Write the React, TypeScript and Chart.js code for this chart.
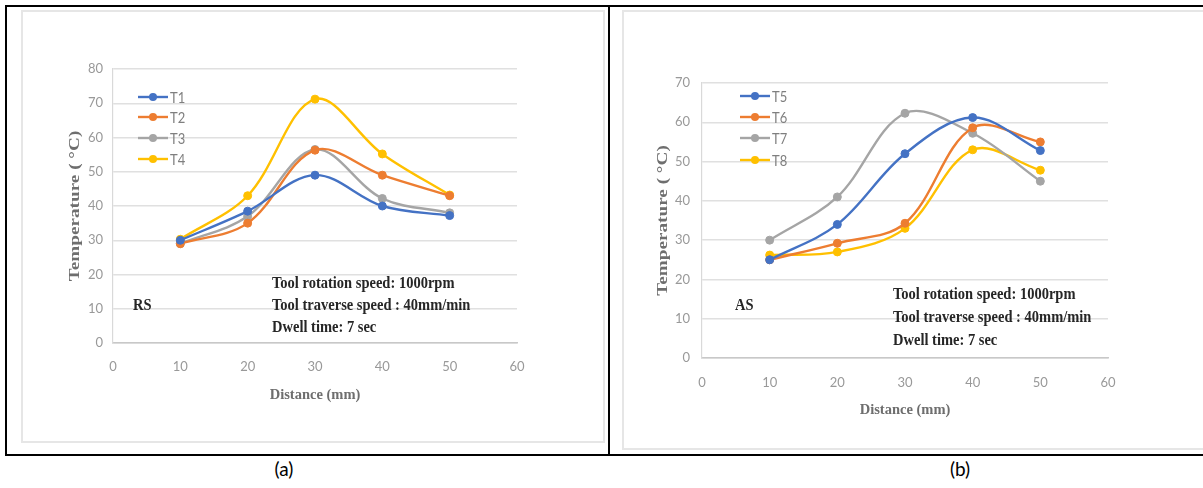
import React, { useEffect, useRef } from "react";
import { Chart, registerables } from "chart.js";

Chart.register(...registerables);

// ---- Data ----
const distances = [10, 20, 30, 40, 50];
const xTicks = [0, 10, 20, 30, 40, 50, 60];

const rsLabels = ["T1", "T2", "T3", "T4"];
const t1 = [30, 38.5, 49, 40, 37.2];
const t2 = [29, 35, 56.3, 49, 43];
const t3 = [29, 37, 56.5, 42.2, 38];
const t4 = [30.3, 43, 71.2, 55.2, 43.2];

const asLabels = ["T5", "T6", "T7", "T8"];
const t5 = [25, 34, 52, 61.2, 52.8];
const t6 = [25, 29.2, 34.3, 58.6, 55];
const t7 = [30, 41, 62.3, 57.2, 45];
const t8 = [26.2, 27, 33, 53, 47.8];

const seriesColors = ["#4472C4", "#ED7D31", "#A5A5A5", "#FFC000"];

const xTitle = "Distance (mm)";
const yTitle = "Temperature ( °C)";
const noteLines = ["Tool rotation speed: 1000rpm", "Tool traverse speed : 40mm/min", "Dwell time: 7 sec"];
const sideLabels = ["RS", "AS"];
const captions = ["(a)", "(b)"];

type PanelCfg = {
  left: number;
  top: number;
  width: number;
  height: number;
  yMax: number;
  labels: string[];
  series: number[][];
  yAxisWidth: number;
  xAxisHeight: number;
  padTop: number;
  padRight: number;
  yTickPad: number;
  xTickPad: number;
  yTitleX: number;
  xTitlePad: number;
  legend: { x1: number; x2: number; tx: number; ys: number[] };
};

const rsCfg: PanelCfg = {
  left: 21,
  top: 8,
  width: 584,
  height: 435,
  yMax: 80,
  labels: rsLabels,
  series: [t1, t2, t3, t4],
  yAxisWidth: 92,
  xAxisHeight: 100,
  padTop: 61,
  padRight: 88,
  yTickPad: 10,
  xTickPad: 16,
  yTitleX: 54,
  xTitlePad: 39,
  legend: { x1: 117, x2: 147, tx: 149, ys: [89, 109, 130, 151] },
};

const asCfg: PanelCfg = {
  left: 622,
  top: 8,
  width: 581,
  height: 442,
  yMax: 70,
  labels: asLabels,
  series: [t5, t6, t7, t8],
  yAxisWidth: 80,
  xAxisHeight: 92,
  padTop: 75,
  padRight: 95,
  yTickPad: 12,
  xTickPad: 17,
  yTitleX: 41,
  xTitlePad: 31,
  legend: { x1: 118, x2: 148, tx: 150, ys: [88, 109, 130, 152] },
};

function ChartPanel({ cfg }: { cfg: PanelCfg }) {
  const ref = useRef<HTMLCanvasElement | null>(null);
  useEffect(() => {
    if (!ref.current) return;
    const extrasPlugin = {
      id: "panelExtras",
      afterDatasetsDraw(chart: any) {
        const ctx = chart.ctx;
        ctx.save();
        chart.data.datasets.forEach((ds: any, i: number) => {
          const y = cfg.legend.ys[i];
          ctx.strokeStyle = ds.borderColor;
          ctx.lineWidth = 2.4;
          ctx.beginPath();
          ctx.moveTo(cfg.legend.x1, y);
          ctx.lineTo(cfg.legend.x2, y);
          ctx.stroke();
          ctx.fillStyle = ds.borderColor;
          ctx.beginPath();
          ctx.arc((cfg.legend.x1 + cfg.legend.x2) / 2, y, 4, 0, Math.PI * 2);
          ctx.fill();
          ctx.save();
          ctx.translate(cfg.legend.tx, y + 1);
          ctx.scale(1, 1.15);
          ctx.fillStyle = "#7f7f7f";
          ctx.font = "13px Lato";
          ctx.textBaseline = "middle";
          ctx.textAlign = "left";
          ctx.fillText(ds.label, 0, 0);
          ctx.restore();
        });
        // rotated y-axis title (stretched along its length like the source)
        const area = chart.chartArea;
        ctx.save();
        ctx.translate(cfg.yTitleX, (area.top + area.bottom) / 2);
        ctx.rotate(-Math.PI / 2);
        ctx.scale(1.28, 1);
        ctx.font = "bold 15px 'Liberation Serif'";
        ctx.fillStyle = "#6e6e6e";
        ctx.textAlign = "center";
        ctx.textBaseline = "middle";
        ctx.fillText(yTitle, 0, 0);
        ctx.restore();
        ctx.restore();
      },
    };
    const chart = new Chart(ref.current, {
      type: "line",
      data: {
        datasets: cfg.series.map((s, i) => ({
          label: cfg.labels[i],
          data: distances.map((d, j) => ({ x: d, y: s[j] })),
          borderColor: seriesColors[i],
          backgroundColor: seriesColors[i],
          pointBackgroundColor: seriesColors[i],
          pointBorderColor: seriesColors[i],
          borderWidth: 2.4,
          pointRadius: 4,
          pointBorderWidth: 1,
          tension: 0.35,
          fill: false,
        })),
      },
      options: {
        responsive: false,
        animation: false,
        devicePixelRatio: 1,
        layout: { padding: { left: 0, top: cfg.padTop, right: cfg.padRight, bottom: 0 } },
        plugins: { legend: { display: false }, tooltip: { enabled: false } },
        scales: {
          x: {
            type: "linear",
            min: 0,
            max: 60,
            afterBuildTicks: (s: any) => {
              s.ticks = xTicks.map((v) => ({ value: v }));
            },
            grid: { display: false, drawTicks: false },
            border: { display: true, color: "#c8c8c8", width: 1.5 },
            ticks: {
              padding: cfg.xTickPad,
              color: "#999999",
              font: { family: "Lato", size: 13 },
              maxRotation: 0,
            },
            title: {
              display: true,
              text: xTitle,
              color: "#6e6e6e",
              font: { family: "Liberation Serif", size: 14.5, weight: "bold" },
              padding: { top: 0, bottom: cfg.xTitlePad },
            },
            afterFit: (s: any) => {
              s.height = cfg.xAxisHeight;
            },
          },
          y: {
            type: "linear",
            min: 0,
            max: cfg.yMax,
            ticks: {
              stepSize: 10,
              padding: cfg.yTickPad,
              color: "#999999",
              font: { family: "Lato", size: 13 },
            },
            grid: { color: "#e0e0e0", lineWidth: 1.5, drawTicks: false },
            border: { display: true, color: "#d9d9d9", width: 1.2 },
            title: { display: false },
            afterFit: (s: any) => {
              s.width = cfg.yAxisWidth;
            },
          },
        },
      },
      plugins: [extrasPlugin],
    } as any);
    return () => chart.destroy();
  }, [cfg]);
  return (
    <canvas
      ref={ref}
      width={cfg.width}
      height={cfg.height}
      style={{ position: "absolute", left: cfg.left, top: cfg.top, width: cfg.width, height: cfg.height }}
    />
  );
}

const noteStyle: React.CSSProperties = {
  position: "absolute",
  fontFamily: "'Liberation Serif', 'Times New Roman', serif",
  fontWeight: "bold",
  fontSize: 14.5,
  color: "#262626",
  whiteSpace: "nowrap",
  lineHeight: "16px",
  transformOrigin: "left center",
  transform: "translateY(-50%) scale(1, 1.15)",
};

const captionStyle: React.CSSProperties = {
  position: "absolute",
  top: 468,
  transform: "translate(-50%, -50%)",
  fontFamily: "Lato, sans-serif",
  fontSize: 19,
  color: "#000",
};

export default function App() {
  return (
    <div
      style={{
        position: "fixed",
        left: 0,
        top: 0,
        width: 1203,
        height: 488,
        background: "#ffffff",
        overflow: "hidden",
      }}
    >
      {/* inner chart-area panels */}
      <div
        style={{
          position: "absolute",
          left: 21,
          top: 10,
          width: 584,
          height: 433,
          boxSizing: "border-box",
          border: "2px solid #e6e6e6",
        }}
      />
      <div
        style={{
          position: "absolute",
          left: 622,
          top: 10,
          width: 600,
          height: 440,
          boxSizing: "border-box",
          border: "2px solid #e6e6e6",
        }}
      />
      <ChartPanel cfg={rsCfg} />
      <ChartPanel cfg={asCfg} />

      {/* annotations left */}
      <div style={{ ...noteStyle, left: 133, top: 304 }}>{sideLabels[0]}</div>
      <div style={{ ...noteStyle, left: 272, top: 282 }}>{noteLines[0]}</div>
      <div style={{ ...noteStyle, left: 272, top: 304 }}>{noteLines[1]}</div>
      <div style={{ ...noteStyle, left: 272, top: 326 }}>{noteLines[2]}</div>

      {/* annotations right */}
      <div style={{ ...noteStyle, left: 735, top: 304 }}>{sideLabels[1]}</div>
      <div style={{ ...noteStyle, left: 893, top: 293 }}>{noteLines[0]}</div>
      <div style={{ ...noteStyle, left: 893, top: 316 }}>{noteLines[1]}</div>
      <div style={{ ...noteStyle, left: 893, top: 339 }}>{noteLines[2]}</div>

      {/* frame */}
      <div
        style={{
          position: "absolute",
          left: 5,
          top: 5,
          width: 1220,
          height: 451,
          boxSizing: "border-box",
          border: "2px solid #000",
        }}
      />
      <div style={{ position: "absolute", left: 608, top: 5, width: 2, height: 451, background: "#000" }} />

      {/* captions */}
      <div style={{ ...captionStyle, left: 284 }}>{captions[0]}</div>
      <div style={{ ...captionStyle, left: 960 }}>{captions[1]}</div>
    </div>
  );
}
